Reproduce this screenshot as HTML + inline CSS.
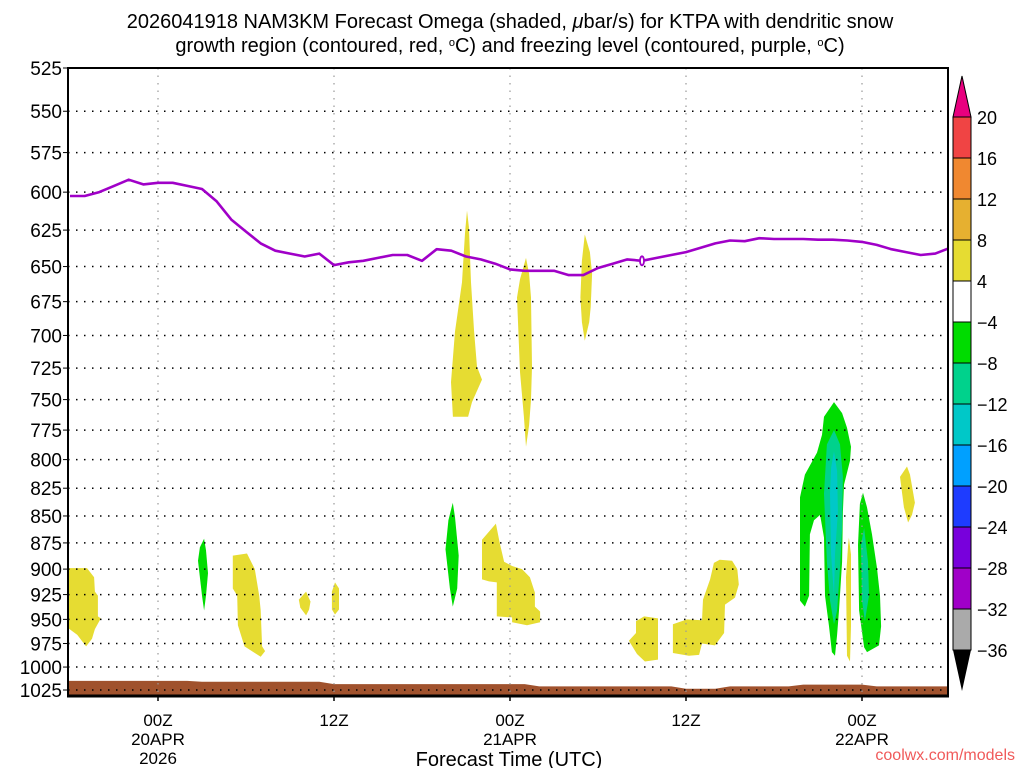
<!DOCTYPE html>
<html><head><meta charset="utf-8"><style>
html,body{margin:0;padding:0;background:#fff;}
svg{display:block;font-family:"Liberation Sans",sans-serif;}
</style></head><body>
<svg id="chart" width="1024" height="768" viewBox="0 0 1024 768">
<g font-size="20" text-anchor="middle" fill="#000">
<text x="510" y="28">2026041918 NAM3KM Forecast Omega (shaded, <tspan font-style="italic">μ</tspan>bar/s) for KTPA with dendritic snow</text>
<text x="510" y="52">growth region (contoured, red, <tspan baseline-shift="super" font-size="11">o</tspan>C) and freezing level (contoured, purple, <tspan baseline-shift="super" font-size="11">o</tspan>C)</text>
</g>
<g id="plot"></g>
</svg>
<script>
// ---- data ----
const yTickLabels=[525,550,575,600,625,650,675,700,725,750,775,800,825,850,875,900,925,950,975,1000,1025];
const xTickHours=[6,18,30,42,54];
const xTickLine1=["00Z","12Z","00Z","12Z","00Z"];
const xTickLine2=["20APR","","21APR","","22APR"];
const xTickLine3=["2026","","","",""];
const cbLevels=[20,16,12,8,4,-4,-8,-12,-16,-20,-24,-28,-32,-36];
const cbColors=["#f04444","#f08830","#e6b030","#e6dc32","#ffffff","#00dc00","#00d28c","#00c8c8","#00a0ff","#1e3cff","#7800dc","#a000c8","#aaaaaa"];
// freezing level pressure (hPa) at each forecast hour 0..60
const frzHours=[0,1,2,3,4,5,6,7,8,9,10,11,12,13,14,15,16,17,18,19,20,21,22,23,24,25,26,27,28,29,30,31,32,33,34,35,36,37,38,39,40,41,42,43,44,45,46,47,48,49,50,51,52,53,54,55,56,57,58,59,60];
const frzPres=[602.5,602.5,600,596,592,595,594,594,596,598,606,618,626,634,639,641,643,641,649,647,646,644,642,642,646,638,639,643,645,648,652,653,653,653,656,656,651,648,645,646,644,642,640,637,634,632,632.5,630.5,631,631,631,631.5,631.5,632,633,635,638,640,642,641,637];
// surface pressure (terrain) at each hour
const sfcPres=[1015,1015,1015,1015,1015,1015,1015,1015,1015,1016,1016,1016,1016,1016,1016,1016,1016,1016,1018.5,1018.5,1018.5,1018.5,1018.5,1018.5,1018.5,1018.5,1018.5,1018.5,1018.5,1018.5,1018.5,1018.5,1021,1021,1021,1021,1021,1021,1021,1021,1021,1021,1023.5,1023.5,1023.5,1021,1021,1021,1021,1021,1019,1019,1019,1019,1019,1021,1021,1021,1021,1021,1021];
// omega shaded regions: [hour, pressure] vertices
const blobYellow=[
 [[-0.3,899],[1.16,899],[1.64,908],[1.7,922],[1.9,926],[1.9,947],[2.1,949],[1.7,960],[1.5,970],[1.1,978],[0.5,966],[-0.3,957]],
 [[11.1,887],[12.07,885],[12.6,900],[12.9,926],[13.0,941],[13.1,978],[13.3,983],[13.0,989],[12.6,985],[11.9,978],[11.45,956],[11.4,926],[11.1,919]],
 [[15.6,930],[16.1,922],[16.4,932],[16.3,940],[16.1,946],[15.7,938]],
 [[18.07,913],[18.34,919],[18.34,940],[18.07,945],[17.86,940],[17.86,922]],
 [[27.07,612],[27.2,623],[27.34,661],[27.55,697],[27.75,724],[28.09,734],[27.41,752],[27.14,764],[26.11,764],[25.98,736],[26.25,697],[26.73,661],[26.93,627]],
 [[31.09,644],[31.3,655],[31.43,672],[31.5,724],[31.43,750],[31.3,771],[31.09,789],[30.95,764],[30.68,728],[30.48,672],[30.68,659]],
 [[35.1,628],[35.45,640],[35.6,655],[35.5,679],[35.4,690],[35.1,704],[34.9,690],[34.8,672],[34.9,646]],
 [[28.09,872],[29.04,857],[29.3,875],[29.6,893],[30.14,897],[30.82,900],[31.36,908],[31.7,923],[31.7,937],[32.05,942],[32.05,953],[31.16,956],[30.14,953],[30.14,948],[29.1,947],[29.1,913],[28.57,912],[28.09,910]],
 [[38.59,952],[39.14,947],[40.09,949],[40.09,992],[39.2,994],[38.66,986],[38.11,972],[38.59,964]],
 [[41.11,955],[42.07,950],[43.09,951],[43.16,930],[43.64,910],[43.9,894],[44.3,891],[45.14,892],[45.5,900],[45.6,915],[45.34,928],[44.66,935],[44.6,964],[43.98,977],[43.09,975],[42.89,987],[42.2,988],[41.11,985]],
 [[53.11,870],[53.25,886],[53.25,957],[53.18,994],[52.98,988],[52.91,908],[53.05,877]],
 [[57.07,806],[57.27,813],[57.61,838],[57.41,849],[57.14,856],[56.86,842],[56.59,815]]
];
const blobGreen=[
 [[9.14,871],[9.27,882],[9.41,904],[9.27,926],[9.14,941],[9.0,926],[8.73,892],[8.86,879]],
 [[26.1,838],[26.25,851],[26.5,887],[26.4,919],[26.1,937],[25.9,919],[25.6,881],[25.8,854]],
 [[52.09,752],[52.64,761],[52.98,773],[53.25,789],[53.18,801],[52.77,822],[52.7,846],[52.64,893],[52.43,941],[52.3,966],[52.16,988],[51.95,984],[51.75,957],[51.48,926],[51.41,870],[51.14,849],[50.73,854],[50.45,867],[50.39,926],[50.11,937],[49.77,931],[49.77,833],[50.11,813],[50.93,794],[51.27,779],[51.41,764]],
 [[54.07,829],[54.34,842],[54.68,867],[55.02,899],[55.23,926],[55.3,957],[55.16,977],[54.34,984],[54.14,979],[53.8,941],[53.73,877],[53.86,839]]
];
const blobTeal=[
 [[52.09,775],[52.5,787],[52.7,815],[52.64,861],[52.5,899],[52.3,941],[52.09,955],[51.82,931],[51.61,893],[51.41,830],[51.61,787]],
 [[54.14,861],[54.41,893],[54.48,926],[54.2,952],[54.0,931],[53.93,877]]
];
const blobCyan=[
 [[52.09,793],[52.3,810],[52.36,846],[52.16,886],[52.09,926],[51.89,886],[51.82,830],[51.89,807]]
];

// ---- axes ----
const FX0=68,FX1=948;
const X0=70,X1=950,Y0=68,YB=695,H0=0,H1=60,PTOP=525,PBOT=1031;
const ys=929.7;
const xS=h=>X0+(h-H0)/(H1-H0)*(X1-X0);
const yS=p=>Y0+ys*Math.log(p/PTOP);
const NS="http://www.w3.org/2000/svg";
const plot=document.getElementById('plot');
function mk(tag,attrs,parent){const e=document.createElementNS(NS,tag);for(const k in attrs)e.setAttribute(k,attrs[k]);(parent||plot).appendChild(e);return e;}

const defs=mk('defs',{});
const cp=mk('clipPath',{id:'pc'},defs);
mk('rect',{x:FX0,y:Y0,width:FX1-FX0,height:YB-Y0},cp);
const g=mk('g',{'clip-path':'url(#pc)'});



function drawBlobs(list,color,name){
  list.forEach((poly,i)=>{
    const e=mk('polygon',{points:poly.map(v=>xS(v[0]).toFixed(1)+','+yS(v[1]).toFixed(1)).join(' '),fill:color},g);
    
    
  });
}
drawBlobs(blobYellow,'#e6dc32','omega-positive-region');
drawBlobs(blobGreen,'#00dc00','omega-negative-region');
drawBlobs(blobTeal,'#00d28c','omega-strong-negative-region');
drawBlobs(blobCyan,'#00c8c8','omega-very-strong-negative-region');

let tp='M'+(FX0-2)+','+(YB+2)+' L'+(FX0-2)+','+yS(sfcPres[0]).toFixed(1);
sfcPres.forEach((p,i)=>{tp+=' L'+xS(i).toFixed(1)+','+yS(p).toFixed(1);});
tp+=' L'+(FX1+2)+','+(YB+2)+' Z';
const terr=mk('path',{d:tp,fill:'#a0522d'},g);



yTickLabels.forEach(p=>{
  const l=mk('line',{x1:FX0,x2:FX1,y1:yS(p),y2:yS(p),stroke:'#000','stroke-width':1.5,'stroke-dasharray':'1.5,6.5'},g);
  
  
});
xTickHours.forEach(h=>{
  const l=mk('line',{x1:xS(h),x2:xS(h),y1:Y0,y2:YB,stroke:'#999','stroke-width':1.2,'stroke-dasharray':'1.5,6'},g);
  
  
});

const fl=mk('polyline',{points:frzHours.map((h,i)=>xS(h).toFixed(1)+','+yS(frzPres[i]).toFixed(1)).join(' '),fill:'none',stroke:'#a000c8','stroke-width':2.6,'stroke-linejoin':'round'},g);


const fll=mk('ellipse',{cx:xS(39.0),cy:yS(646),rx:2,ry:4.5,fill:'#fff',stroke:'#a000c8','stroke-width':1.8},g);



const fr=mk('path',{d:`M${FX0},${YB} L${FX0},${Y0} L${FX1},${Y0} L${FX1},${YB}`,fill:'none',stroke:'#000','stroke-width':2});


const fb=mk('line',{x1:FX0-1,x2:FX1+1,y1:YB+1,y2:YB+1,stroke:'#000','stroke-width':3});



yTickLabels.forEach(p=>{
  const t=mk('text',{x:62,y:yS(p)+7,'text-anchor':'end','font-size':19,fill:'#000'});
  t.textContent=p;
  
  
  const tk=mk('line',{x1:FX0-5,x2:FX0,y1:yS(p),y2:yS(p),stroke:'#000','stroke-width':1});
  
  
});
xTickHours.forEach((h,i)=>{
  const x=xS(h);
  const tk=mk('line',{x1:x,x2:x,y1:YB,y2:YB+6,stroke:'#000','stroke-width':1.5});
  
  
  [xTickLine1[i],xTickLine2[i],xTickLine3[i]].forEach((s,j)=>{
    if(!s)return;
    const t=mk('text',{x:x,y:726+j*19,'text-anchor':'middle','font-size':17,fill:'#000'});
    t.textContent=s;
    
    
  });
});
const xt=mk('text',{x:509,y:766,'text-anchor':'middle','font-size':20,fill:'#000'});
xt.textContent='Forecast Time (UTC)';


const cr=mk('text',{x:1015,y:760,'text-anchor':'end','font-size':16,fill:'#f05a5a'});
cr.textContent='coolwx.com/models';



const CBX=953,CBW=18,CBT=117,CBH=41;
const cb=mk('g',{});


const tri1=mk('polygon',{points:`${CBX},${CBT} ${CBX+CBW},${CBT} ${CBX+CBW/2},76`,fill:'#e8007f',stroke:'#000','stroke-width':1},cb);


cbColors.forEach((c,i)=>{
  const r=mk('rect',{x:CBX,y:CBT+i*CBH,width:CBW,height:CBH,fill:c,stroke:'#000','stroke-width':1},cb);
  
  
});
const yEnd=CBT+cbColors.length*CBH;
const tri2=mk('polygon',{points:`${CBX},${yEnd} ${CBX+CBW},${yEnd} ${CBX+CBW/2},691`,fill:'#000'},cb);


cbLevels.forEach((v,i)=>{
  const t=mk('text',{x:977,y:CBT+i*CBH+7,'font-size':18,fill:'#000'},cb);
  t.textContent=v<0?'\u2212'+(-v):String(v);
  
  
});
</script>
</body></html>
